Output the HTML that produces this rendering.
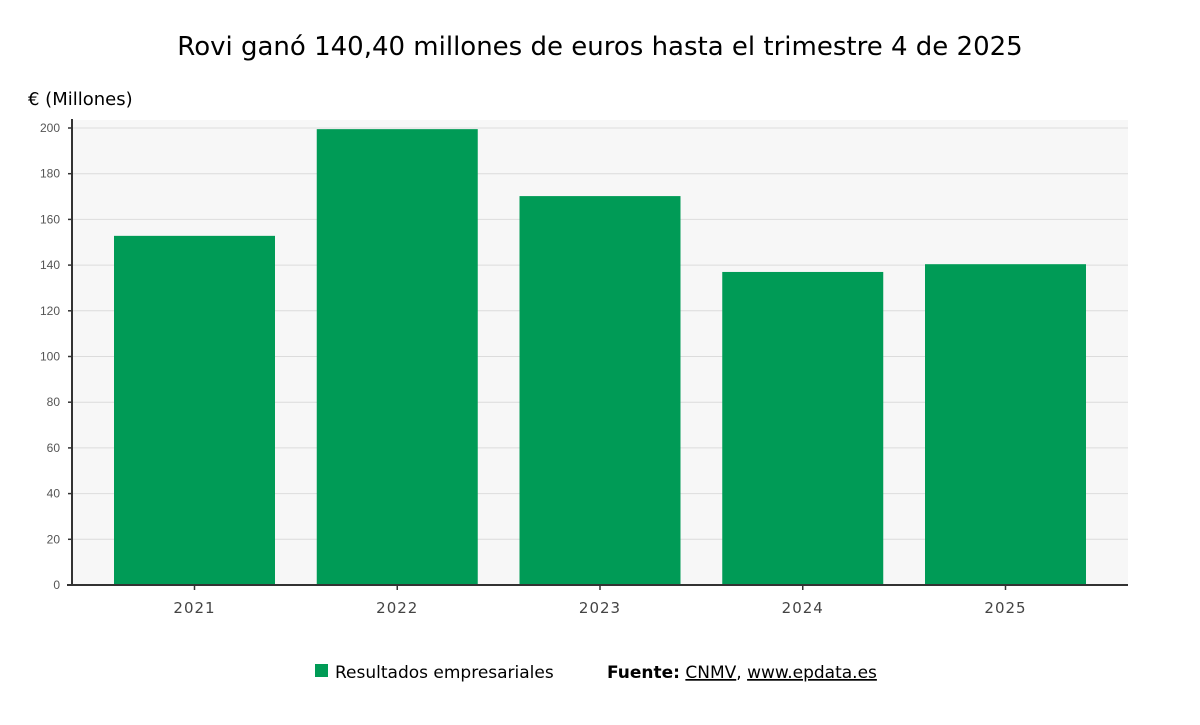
<!DOCTYPE html>
<html><head><meta charset="utf-8"><style>
body{margin:0;background:#fff;width:1200px;height:720px;overflow:hidden;font-family:"Liberation Sans","DejaVu Sans",sans-serif}
</style></head><body>
<svg width="1200" height="720">
<text x="600" y="55" text-anchor="middle" font-size="26" fill="#000" font-family="DejaVu Sans, sans-serif">Rovi ganó 140,40 millones de euros hasta el trimestre 4 de 2025</text>
<text x="28" y="105" font-size="18" fill="#000" font-family="DejaVu Sans, sans-serif">€ (Millones)</text>
<rect x="72" y="120" width="1056" height="465" fill="#f7f7f7"/>
<g id="grid"></g><g id="bars"></g><g id="axes"></g>
<rect x="315" y="664" width="13" height="13" fill="#009b56"/>
<text x="335" y="678" font-size="17" fill="#000" font-family="DejaVu Sans, sans-serif">Resultados empresariales</text>
<text x="607" y="678" font-size="17" fill="#000" font-family="DejaVu Sans, sans-serif"><tspan font-weight="bold">Fuente:</tspan> <tspan text-decoration="underline">CNMV</tspan>, <tspan text-decoration="underline">www.epdata.es</tspan></text>
</svg>
<script>
const categories=["2021","2022","2023","2024","2025"];
const values=[152.8,199.5,170.2,137.0,140.4];
const yTicks=[0,20,40,60,80,100,120,140,160,180,200];
const NS="http://www.w3.org/2000/svg";
const y=v=>585-v*(585-128)/200;
const xc=i=>194.5+i*202.75;
function mk(t,a,p){const e=document.createElementNS(NS,t);for(const k in a)e.setAttribute(k,a[k]);p.appendChild(e);return e;}
const g=document.getElementById('grid'),b=document.getElementById('bars'),ax=document.getElementById('axes');
yTicks.forEach(v=>{
 if(v>0){const l=mk('line',{x1:72,x2:1128,y1:y(v),y2:y(v),stroke:'#dcdcdc','stroke-width':1},g);
 
 }
 const tk=mk('line',{x1:68,x2:72,y1:y(v),y2:y(v),stroke:'#333','stroke-width':1.5},ax);
 
 
 const t=mk('text',{x:60,y:y(v)+4,'text-anchor':'end','font-size':12,fill:'#555'},ax);
 t.textContent=v;
 
 
});
categories.forEach((c,i)=>{
 const r=mk('rect',{x:xc(i)-80.5,y:y(values[i]),width:161,height:585-y(values[i]),fill:'#009b56'},b);
 
 
 const tk=mk('line',{x1:xc(i),x2:xc(i),y1:585,y2:590,stroke:'#333','stroke-width':1.5},ax);
 
 
 const t=mk('text',{x:xc(i),y:613,'text-anchor':'middle','font-size':15,fill:'#444','font-family':'DejaVu Sans, sans-serif','letter-spacing':'1'},ax);
 t.textContent=c;
 
 
});
const yl=mk('line',{x1:72,x2:72,y1:119,y2:586,stroke:'#333','stroke-width':2},ax);


const xl=mk('line',{x1:67,x2:1128,y1:585,y2:585,stroke:'#333','stroke-width':2},ax);


</script>
</body></html>
